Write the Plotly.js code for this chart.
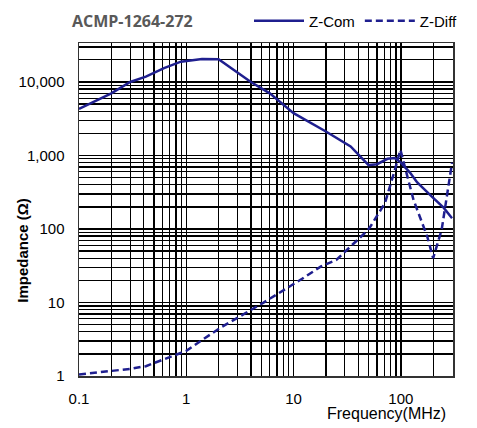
<!DOCTYPE html>
<html>
<head>
<meta charset="utf-8">
<script src="https://cdn.plot.ly/plotly-3.0.1.min.js"></script>
<style>html,body{margin:0;padding:0;background:#fff;}#chart{width:477px;height:428px;}</style>
</head>
<body>
<div id="chart"></div>
<script>
// Z-Com (solid) data, frequency in MHz, impedance in ohms
const freqCom = [0.1, 0.2, 0.3, 0.42, 0.62, 0.89, 1.4, 2.0, 4.0, 6.0, 10, 20, 34, 50, 60, 75, 88, 100, 122, 142, 200, 250, 300];
const zCom    = [4300, 7000, 10000, 11800, 15400, 18900, 20500, 20400, 10000, 7000, 3770, 2120, 1325, 740, 760, 900, 920, 800, 580, 430, 265, 195, 140];

// Z-Diff (dashed) data
const freqDiff = [0.1, 0.135, 0.21, 0.3, 0.42, 0.62, 0.81, 1.0, 2.06, 5.2, 12, 18, 25, 48, 52, 71, 88, 99, 131, 176, 200, 240, 300];
const zDiff    = [1.05, 1.1, 1.16, 1.25, 1.36, 1.67, 1.96, 2.2, 4.5, 9.9, 21, 31, 38, 93, 108, 225, 640, 1195, 250, 79, 40, 98, 800];

// Axis tick labels
const xTickVals = [0.1, 1, 10, 100];
const xTickText = ['0.1', '1', '10', '100'];
const yTickVals = [1, 10, 100, 1000, 10000];
const yTickText = ['1', '10', '100', '1,000', '10,000'];

const seriesNames = ['Z-Com', 'Z-Diff'];
const chartTitle = 'ACMP-1264-272';
const xTitle = 'Frequency(MHz)';
const yTitle = 'Impedance (\u03A9)';

// minor log grid positions (2..9 x each decade)
function minorGrid(decades, maxVal) {
  const out = [];
  decades.forEach(d => { for (let k = 2; k <= 9; k++) { const v = d * k; if (v <= maxVal) out.push(v); } });
  return out;
}
const xMinor = minorGrid([0.1, 1, 10, 100], 300);
const yMinor = minorGrid([1, 10, 100, 1000, 10000], 30000);

const lineColor = '#1f1f8f';
const tickFont = {family: 'Liberation Sans, Arial, sans-serif', size: 15, color: '#000'};

const traces = [
  {x: freqCom, y: zCom, name: seriesNames[0], type: 'scatter', mode: 'lines',
   line: {color: lineColor, width: 2.5}},
  {x: freqDiff, y: zDiff, name: seriesNames[1], type: 'scatter', mode: 'lines',
   line: {color: lineColor, width: 2.5, dash: '7px,4px'}}
];

const layout = {
  width: 477, height: 428,
  margin: {l: 79, r: 24, t: 43, b: 52},
  paper_bgcolor: '#fff', plot_bgcolor: '#fff',
  title: {text: '<b>' + chartTitle + '</b>', xref: 'container', x: 72/477, xanchor: 'left',
          yref: 'container', y: 1 - 21/428, yanchor: 'middle',
          font: {family: 'Open Sans, sans-serif', size: 16, color: '#595959'}},
  showlegend: true,
  legend: {orientation: 'h', xref: 'container', yref: 'container', x: 249/477, y: 1 - 21/428,
           xanchor: 'left', yanchor: 'middle', font: tickFont, itemwidth: 50,
           bgcolor: 'rgba(0,0,0,0)', tracegroupgap: 0},
  xaxis: {type: 'log', range: [-1, Math.log10(306)], tickmode: 'array', tickvals: xTickVals, ticktext: xTickText,
          ticks: '', tickfont: tickFont, ticklabelstandoff: 8,
          showgrid: true, gridcolor: '#000', gridwidth: 1.5,
          minor: {tickmode: 'array', tickvals: xMinor, showgrid: true, gridcolor: '#000', gridwidth: 1.3, ticks: ''},
          showline: true, linecolor: '#333', linewidth: 1.5, mirror: true, zeroline: false, fixedrange: true},
  yaxis: {type: 'log', range: [0, 4.53], tickmode: 'array', tickvals: yTickVals, ticktext: yTickText,
          ticks: '', tickfont: tickFont, ticklabelstandoff: 10,
          showgrid: true, gridcolor: '#000', gridwidth: 1.6,
          minor: {tickmode: 'array', tickvals: yMinor, showgrid: true, gridcolor: '#000', gridwidth: 1.3, ticks: ''},
          showline: true, linecolor: '#333', linewidth: 1.5, mirror: true, zeroline: false, fixedrange: true},
  annotations: [
    {text: xTitle, xref: 'paper', yref: 'paper', x: (448 - 79) / 374, xanchor: 'right', y: 0, yanchor: 'middle',
     yshift: -37, showarrow: false, font: {family: 'Liberation Sans, Arial, sans-serif', size: 16, color: '#000'}},
    {text: '<b>' + yTitle + '</b>', xref: 'paper', yref: 'paper', x: (23 - 79) / 374, y: (376.5 - 251) / 333.5,
     xanchor: 'center', yanchor: 'middle', textangle: -90, showarrow: false,
     font: {family: 'Liberation Sans, Arial, sans-serif', size: 15, color: '#000'}}
  ]
};

Plotly.newPlot('chart', traces, layout, {displayModeBar: false, staticPlot: true});
</script>
</body>
</html>
